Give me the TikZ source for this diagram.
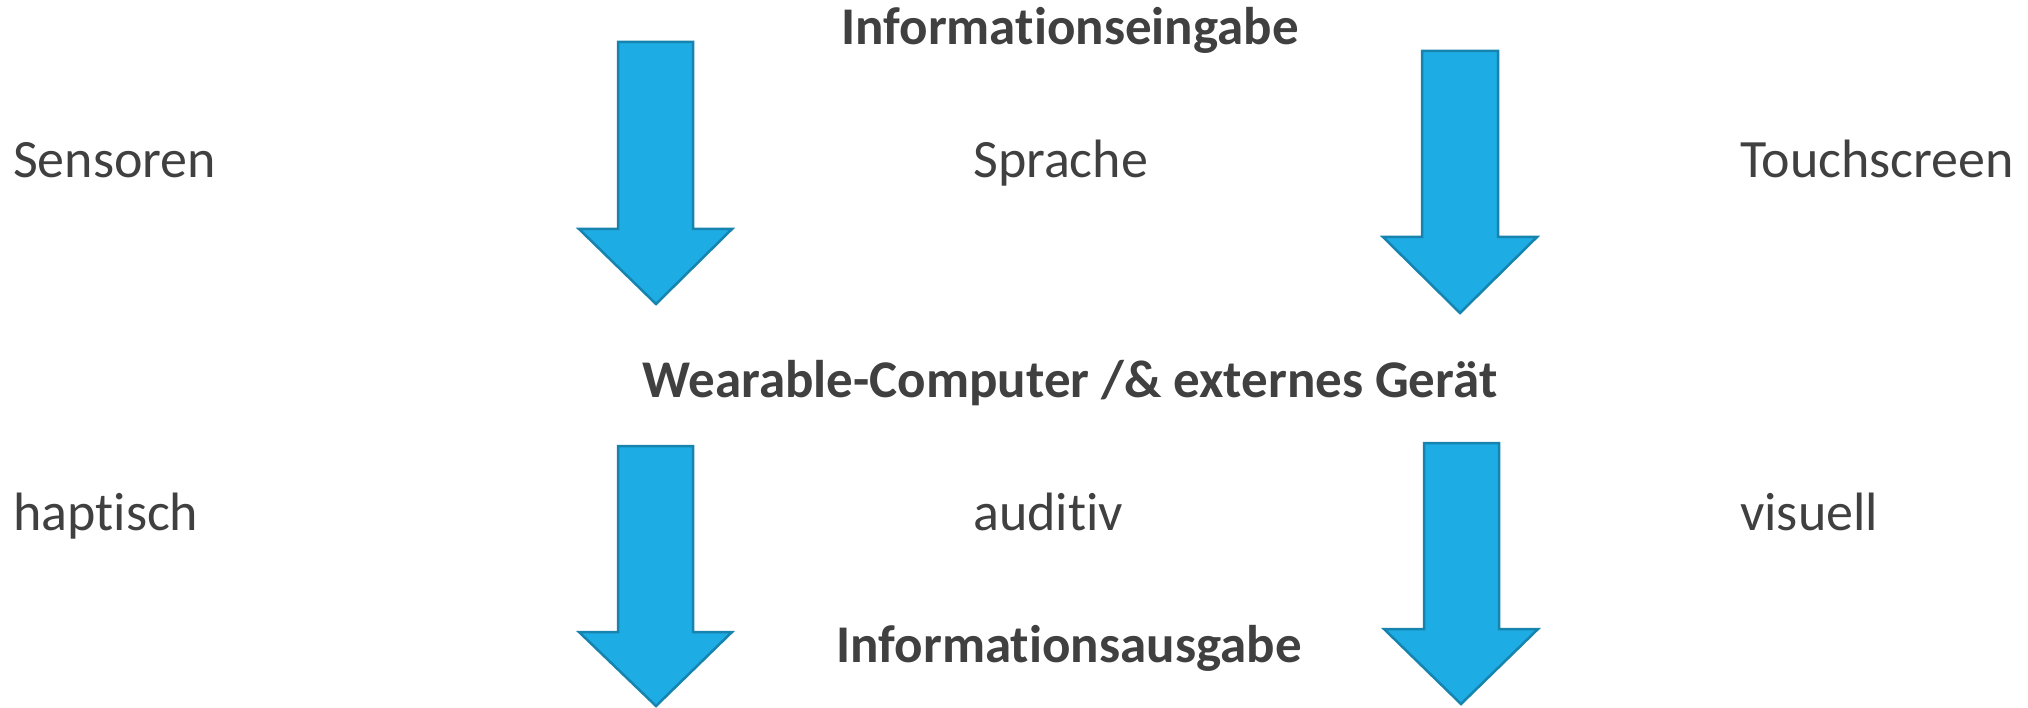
\documentclass[tikz,border=0pt]{standalone}
\usepackage{fontspec}
\setmainfont[Ligatures={NoCommon,NoContextual}]{Carlito}
% keep "t" and "i" as separate glyphs
\newcommand\tIsep{t\kern0pt i}
\definecolor{txt}{HTML}{404040}
\definecolor{arrowfill}{HTML}{1DACE3}
\definecolor{arrowline}{HTML}{1684AE}
\begin{document}
\begin{tikzpicture}[x=1pt,y=-1pt,
  label/.style={inner sep=0pt, anchor=base west, text=txt, font=\fontsize{54}{62}\selectfont},
  title/.style={inner sep=0pt, anchor=base, text=txt, font=\fontsize{53}{61}\selectfont\bfseries},
  downarrow/.style={fill=arrowfill, draw=arrowline, line width=2.5pt, line join=miter}]
\useasboundingbox (0,0) rectangle (2028,708);

% input arrows
\draw[downarrow] (618,42) -- (693,42) -- (693,229) -- (732,229) -- (656,304) -- (579,229) -- (618,229) -- cycle;
\draw[downarrow] (1422,51) -- (1498,51) -- (1498,237) -- (1537,237) -- (1460,313) -- (1383,237) -- (1422,237) -- cycle;

% output arrows
\draw[downarrow] (618,446) -- (693,446) -- (693,632) -- (732,632) -- (656,706) -- (579,632) -- (618,632) -- cycle;
\draw[downarrow] (1424,443) -- (1499,443) -- (1499,629) -- (1538,629) -- (1461,704) -- (1384,629) -- (1424,629) -- cycle;

% headings
\node[title] (ein) at (1070,45) {Informa\tIsep onseingabe};
\node[title] (wc) at (1070,397) {Wearable-Computer /\& externes Gerät};
\node[title] (aus) at (1069,662) {Informa\tIsep onsausgabe};

% input channels
\node[label] (sens) at (13,178) {Sensoren};
\node[label] (spr) at (973,178) {Sprache};
\node[label] (touch) at (1740,178) {Touchscreen};

% output channels
\node[label] (hap) at (13,530) {hap\tIsep sch};
\node[label] (aud) at (973,530) {audi\tIsep v};
\node[label] (vis) at (1740,530) {visuell};
\end{tikzpicture}
\end{document}
